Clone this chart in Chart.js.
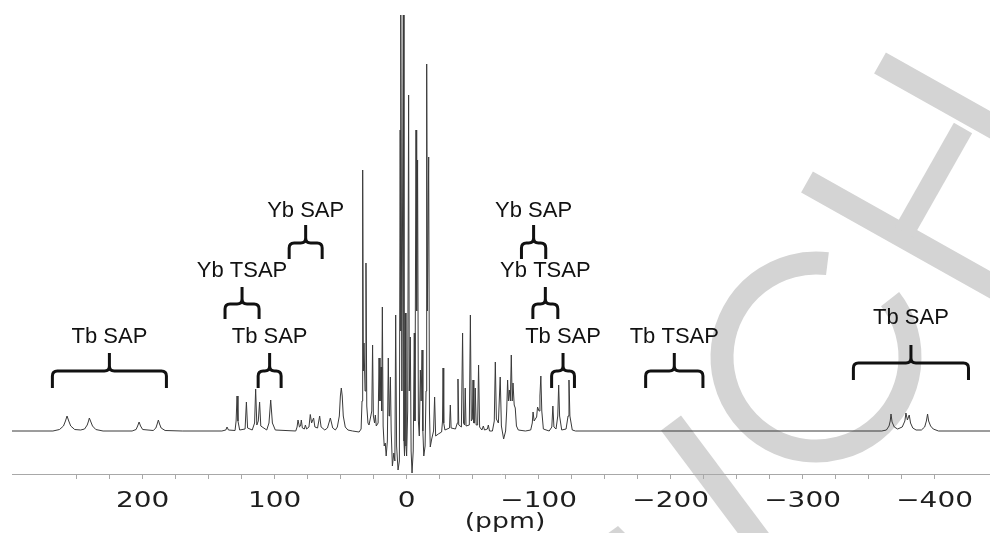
<!DOCTYPE html>
<html>
<head>
<meta charset="utf-8">
<script src="https://cdn.jsdelivr.net/npm/chart.js@4/dist/chart.umd.min.js"></script>
<style>
  html, body { margin: 0; padding: 0; background: #fff; }
  #wrap { width: 990px; height: 533px; position: relative; }
</style>
</head>
<body>
<div id="wrap"><canvas id="c" width="990" height="533"></canvas></div>
<script>
// 1H NMR spectrum: [chemical shift (ppm), intensity (a.u.)]
const downfieldSignals = [
  [299,0],[268,0],[263,1.5],[260,5],[258.5,10],[257.3,15],[256,10],[254.5,5],[251.5,1.5],
  [247,1],[244,2],[242,6],[241,10],[240.4,13],[239.5,10],[238,5],[235.5,1.5],[230,0],
  [208,0],[205,1.5],[203.8,5],[202.7,9],[201.6,5],[200,1.5],[192,0.5],[190,3],[189,7],
  [188.1,11],[187.2,7],[186,3],[183,0.5],[170,0],[140,0],[137,1],[136.1,4],[135,1],
  [130,0.5],[129.2,10],[128.5,35],[127.8,10],[126.5,1],[122.4,2],[121.4,29],[120.5,3],
  [117,1],[115.2,8],[114.4,42],[113.5,6],[112.4,10],[111.4,29],[110.5,5],[106,1],
  [104.3,8],[103.0,31],[101.7,8],[99.5,1],[84,0],[83,4],[82.3,11],[81.2,4],[80.4,5],
  [79.8,11],[79,3],[77.5,2],[76.7,6],[75.8,2],[74,4],[73.0,16.5],[72,8],[70.5,13],
  [69.5,4],[67.5,3],[65.9,15],[64.8,4],[62,1],[60,3],[57.8,13],[56,3],[54,1],[52.5,4],
  [51,15],[50.2,35],[49.5,43],[48.8,35],[48,15],[46.5,4],[44.5,1],[41,0]
];

const diamagneticSignals = [
  [36,-1],[34.5,2],[33.8,30],[33.3,261],[32.8,60],[32.3,88],[31.5,40],[30.8,168],[30.2,25],
  [29.3,8],[28.5,6],[26.4,20],[25.8,86],[25.2,15],[24.3,8],[23.7,16],[23.0,5],[21.6,8],
  [20.9,73],[20.2,30],[19.4,64],[18.9,20],[18.4,124],[17.8,5],[17,-15],[16.2,-12],
  [15.5,-25],[14.6,-10],[13.9,73],[13.3,15],[12.9,20],[12.3,54],[11.7,0],[10.8,-35],
  [9.7,-22],[8.9,-30],[8.3,116],[7.6,-15],[6.5,-39],[5.5,-30],[4.9,301],[4.6,100],
  [4.3,430],[3.6,40],[2.5,430],[2.0,-10],[1.6,-25],[1.0,118],[0.5,-15],[0,-25],
  [-0.8,20],[-1.5,336],[-2.0,40],[-2.8,94],[-3.4,-20],[-4.1,-42],[-5.0,-20],[-5.8,98],
  [-6.3,10],[-7.1,301],[-7.6,120],[-8.3,271],[-8.9,10],[-9.6,-5],[-10.4,61],[-11.0,30],
  [-11.7,81],[-12.3,0],[-13.0,-25],[-14.0,-15],[-14.7,40],[-15.2,367],[-15.7,120],
  [-16.7,274],[-17.3,20],[-17.9,-16],[-19.0,-8],[-20.4,0],[-21.2,34],[-22.0,-5],
  [-24.0,-3],[-26.5,-1],[-27.2,10],[-27.6,63],[-28.1,8],[-29,1],[-32.5,3],[-33.1,26],
  [-33.7,3],[-37,2],[-38.4,8],[-38.9,52],[-39.5,6],[-41.5,4],[-42.4,98],[-43.1,8],
  [-43.9,6],[-44.4,43],[-45,5],[-47.5,6],[-48.3,116],[-49.0,10],[-49.8,12],[-50.3,51],
  [-50.9,8],[-51.5,8],[-52.0,43],[-52.7,6],[-53.8,6],[-54.5,66],[-55.3,4],[-57,1],
  [-58.1,5],[-59,1],[-61.2,2],[-61.9,6],[-62.8,0],[-65,0],[-66.4,10],[-67.2,69],
  [-68.0,12],[-69.5,8],[-70.9,54],[-71.8,5],[-73.5,-8],[-75,0],[-75.8,20],[-76.5,51],
  [-77.1,30],[-77.8,41],[-78.6,30],[-79.3,76],[-80.0,30],[-80.6,48],[-81.5,26],
  [-82.3,23],[-83.2,5],[-84.6,1]
];

const upfieldSignals = [
  [-90,0],[-94,1],[-95.2,8],[-95.8,19],[-96.6,10],[-97.5,12],[-98.5,14],[-99.2,24],
  [-100.3,20],[-101.0,35],[-101.7,55],[-102.4,20],[-103.6,2],[-108,0],[-110,4],
  [-110.8,25],[-111.6,4],[-113.2,2],[-114.5,15],[-115.2,46],[-115.9,15],[-117.5,1],
  [-120.8,2],[-122.3,15],[-123.0,51],[-123.7,15],[-125.5,1],[-128,0],[-360,0],
  [-363.5,1],[-365.5,5],[-366.4,10],[-367.0,17],[-367.8,9],[-369.5,4],[-372,2],
  [-375.5,4],[-377.5,10],[-378.3,18],[-379.4,11],[-380.8,16],[-381.8,8],[-383.5,3],
  [-386,1],[-390,1],[-392.5,4],[-393.8,10],[-394.7,17],[-395.5,10],[-397,5],[-399,2],
  [-403,0],[-442,0]
];

// Axis tick labels (ppm)
const tickLabelValues = [200, 100, 0, -100, -200, -300, -400];

// Signal assignments: label, centre (ppm), half width of the brace (ppm)
const annotationLabels  = ['Tb SAP', 'Yb TSAP', 'Yb SAP', 'Tb SAP', 'Yb SAP', 'Yb TSAP', 'Tb SAP', 'Tb TSAP', 'Tb SAP'];
const annotationCenters = [225.2, 124.7, 76.5, 103.8, -96.2, -105.1, -118.5, -202.8, -382.1];
const annotationHalfSpans = [43.2, 12.9, 12.5, 8.7, 9.2, 9.45, 8.65, 21.7, 43.6];

// ---- drawing layout ----
const braceRowGeometry = {
  A: { text: 217, top: 225, bar: 243, foot: 259 },
  B: { text: 277, top: 287, bar: 304, foot: 319 },
  C: { text: 343, top: 353, bar: 371, foot: 388 },
  D: { text: 324, top: 345, bar: 363, foot: 380 }
};
const annotationRows = ['C', 'B', 'A', 'C', 'A', 'B', 'C', 'C', 'D'];

const spectrum = downfieldSignals.concat(diamagneticSignals, upfieldSignals)
  .map(p => ({ x: p[0], y: p[1] }));

// Light grey publisher mark behind the plot
const backdropPlugin = {
  id: 'backdrop',
  beforeDraw(chart) {
    const ctx = chart.ctx;
    ctx.save();
    ctx.fillStyle = '#ffffff';
    ctx.fillRect(0, 0, chart.width, chart.height);
    ctx.strokeStyle = '#d4d4d4';
    ctx.fillStyle = '#d4d4d4';
    ctx.lineCap = 'butt';
    ctx.lineWidth = 24;
    const bar = (x1, y1, x2, y2) => { ctx.beginPath(); ctx.moveTo(x1, y1); ctx.lineTo(x2, y2); ctx.stroke(); };
    bar(880, 63, 1010, 136);
    bar(807, 182, 1010, 296);
    ctx.lineWidth = 21;
    bar(904, 232, 963, 128);
    ctx.lineWidth = 23;
    ctx.beginPath();
    ctx.arc(816, 357, 94, -83 * Math.PI / 180, -38 * Math.PI / 180, true);
    ctx.stroke();
    ctx.lineWidth = 25;
    bar(671, 423, 766, 550);
    ctx.beginPath();
    ctx.moveTo(607, 534); ctx.lineTo(626, 534); ctx.lineTo(618, 526); ctx.closePath();
    ctx.fill();
    ctx.restore();
  }
};

function drawBrace(ctx, xl, xc, xr, g) {
  const r = 5;
  ctx.beginPath();
  ctx.moveTo(xl, g.foot);
  ctx.lineTo(xl, g.bar + r);
  ctx.quadraticCurveTo(xl, g.bar, xl + r, g.bar);
  ctx.lineTo(xc - r, g.bar);
  ctx.quadraticCurveTo(xc, g.bar, xc, g.bar - r);
  ctx.lineTo(xc, g.top);
  ctx.moveTo(xc, g.bar - r);
  ctx.quadraticCurveTo(xc, g.bar, xc + r, g.bar);
  ctx.lineTo(xr - r, g.bar);
  ctx.quadraticCurveTo(xr, g.bar, xr, g.bar + r);
  ctx.lineTo(xr, g.foot);
  ctx.stroke();
}

// Tick labels, axis title and assignment braces
const overlayPlugin = {
  id: 'overlay',
  afterDraw(chart) {
    const ctx = chart.ctx;
    const xs = chart.scales.x;
    const base = chart.chartArea.bottom;
    ctx.save();
    ctx.fillStyle = '#1e1e1e';
    ctx.textAlign = 'center';
    ctx.textBaseline = 'alphabetic';
    ctx.font = '22px "DejaVu Sans", sans-serif';
    tickLabelValues.forEach(v => {
      const px = xs.getPixelForValue(v);
      const txt = v < 0 ? '\u2212' + Math.abs(v) : String(v);
      ctx.save();
      ctx.translate(px, base + 32.5);
      ctx.scale(1.27, 1);
      ctx.fillText(txt, 0, 0);
      ctx.restore();
    });
    ctx.font = '21px "DejaVu Sans", sans-serif';
    ctx.save();
    ctx.translate((xs.left + xs.right) / 2 + 4, base + 54);
    ctx.scale(1.27, 1);
    ctx.fillText('(ppm)', 0, 0);
    ctx.restore();

    ctx.strokeStyle = '#111';
    ctx.lineWidth = 3;
    ctx.lineCap = 'butt';
    ctx.lineJoin = 'round';
    ctx.font = '22px "Liberation Sans", Arial, sans-serif';
    ctx.fillStyle = '#111';
    annotationLabels.forEach((label, i) => {
      const g = braceRowGeometry[annotationRows[i]];
      const a = xs.getPixelForValue(annotationCenters[i] + annotationHalfSpans[i]);
      const b = xs.getPixelForValue(annotationCenters[i] - annotationHalfSpans[i]);
      const xc = xs.getPixelForValue(annotationCenters[i]);
      drawBrace(ctx, Math.min(a, b), xc, Math.max(a, b), g);
      ctx.fillText(label, xc, g.text);
    });
    ctx.restore();
  }
};

new Chart(document.getElementById('c'), {
  type: 'line',
  data: {
    datasets: [{
      data: spectrum,
      borderColor: '#3a3a3a',
      borderWidth: 1,
      pointRadius: 0,
      tension: 0,
      fill: false
    }]
  },
  options: {
    responsive: false,
    animation: false,
    devicePixelRatio: 1,
    layout: { padding: { top: 15, left: 12, right: 0, bottom: 0 } },
    plugins: { legend: { display: false }, tooltip: { enabled: false } },
    scales: {
      x: {
        type: 'linear',
        reverse: true,
        min: -442,
        max: 299,
        border: { display: true, color: '#a8a8a8', width: 1 },
        grid: { display: true, drawOnChartArea: false, drawTicks: true, tickLength: 5, color: '#a8a8a8' },
        ticks: { display: false, stepSize: 25 },
        afterBuildTicks: s => { s.ticks = s.ticks.filter(t => Math.abs(t.value % 25) < 1e-6); },
        afterFit: s => { s.height = 59; }
      },
      y: { display: false, min: -43, max: 416 }
    }
  },
  plugins: [backdropPlugin, overlayPlugin]
});
</script>
</body>
</html>
